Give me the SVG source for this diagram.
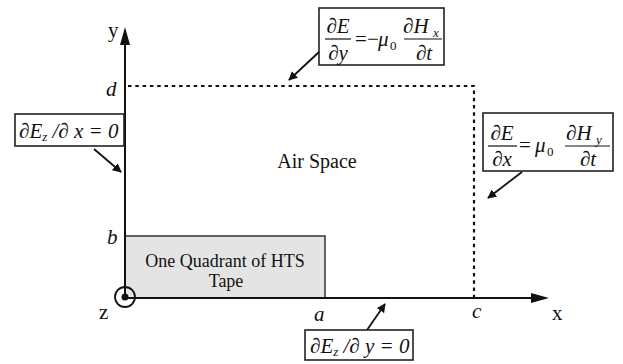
<svg xmlns="http://www.w3.org/2000/svg" width="623" height="364" viewBox="0 0 623 364">
  <style>
    .box { fill: #fff; stroke: #222; stroke-width: 1.6; }
    .axis { stroke: #111; stroke-width: 2; fill: none; }
    .bound { stroke: #111; stroke-width: 2.2; stroke-dasharray: 3.5 3.8; fill: none; }
    .lead { stroke: #111; stroke-width: 1.8; fill: none; marker-end: url(#tip); }
    .bar { stroke: #111; stroke-width: 1.2; }
  </style>
  <defs>
    <marker id="tip" viewBox="0 0 10 10" refX="9" refY="5" markerWidth="5" markerHeight="5" orient="auto" markerUnits="strokeWidth">
      <path d="M0,0 L10,5 L0,10 z" fill="#111"/>
    </marker>
  </defs>

  <rect width="623" height="364" fill="#fff"/>

  <!-- tape cross-section -->
  <g id="tape">
    <rect x="125" y="236" width="200" height="62" fill="#e4e4e4" stroke="#333" stroke-width="1.5"/>
    <text font-family="Liberation Serif" font-size="18" fill="#111" x="225" y="267" text-anchor="middle">One Quadrant of HTS</text>
    <text font-family="Liberation Serif" font-size="18" fill="#111" x="226" y="287" text-anchor="middle">Tape</text>
  </g>

  <!-- outer air boundary -->
  <g id="boundary">
    <path class="bound" d="M128,86 H474 V297"/>
  </g>

  <!-- axes -->
  <g id="axes">
    <line class="axis" x1="125" y1="299" x2="125" y2="40"/>
    <path d="M125,27 L130,45 L120,45 z" fill="#111"/>
    <line class="axis" x1="125" y1="298" x2="535" y2="298"/>
    <path d="M549,298 L531,293 L531,303 z" fill="#111"/>
    <circle cx="125" cy="297" r="10" fill="none" stroke="#111" stroke-width="1.8"/>
    <circle cx="125" cy="297" r="3.5" fill="#111"/>
    <text font-family="Liberation Serif" font-size="21" fill="#111" x="108" y="37">y</text>
    <text font-family="Liberation Serif" font-size="21" fill="#111" x="552" y="320">x</text>
    <text font-family="Liberation Serif" font-size="21" fill="#111" x="99" y="319">z</text>
    <text font-family="Liberation Serif" font-size="21" font-style="italic" fill="#111" x="106" y="96">d</text>
    <text font-family="Liberation Serif" font-size="21" font-style="italic" fill="#111" x="107" y="244">b</text>
    <text font-family="Liberation Serif" font-size="21" font-style="italic" fill="#111" x="314" y="321">a</text>
    <text font-family="Liberation Serif" font-size="21" font-style="italic" fill="#111" x="472" y="318">c</text>
  </g>

  <g id="air">
    <text font-family="Liberation Serif" font-size="20" fill="#111" x="317" y="168" text-anchor="middle">Air Space</text>
  </g>

  <!-- boundary condition on the top edge -->
  <g id="eq-top" font-family="Liberation Serif" font-size="21" font-style="italic" fill="#111">
    <rect class="box" x="319" y="8" width="125" height="57"/>
    <text font-family="Liberation Serif" font-style="italic" x="338" y="33" text-anchor="middle">∂E</text>
    <line class="bar" x1="325" y1="39" x2="351" y2="39"/>
    <text font-family="Liberation Serif" font-style="italic" x="338" y="60" text-anchor="middle">∂y</text>
    <text font-family="Liberation Serif" font-style="normal" x="355" y="46">=</text>
    <text font-family="Liberation Serif" font-style="normal" x="367" y="46">−</text>
    <text font-family="Liberation Serif" font-style="italic" x="378" y="46">μ</text>
    <text font-family="Liberation Serif" font-style="normal" font-size="13" x="390" y="50">0</text>
    <text font-family="Liberation Serif" font-style="italic" x="403" y="33">∂H</text>
    <text font-family="Liberation Serif" font-style="italic" font-size="13" x="433" y="37">x</text>
    <line class="bar" x1="404" y1="39" x2="442" y2="39"/>
    <text font-family="Liberation Serif" font-style="italic" x="424" y="60" text-anchor="middle">∂t</text>
  </g>

  <!-- boundary condition on the right edge -->
  <g id="eq-right" font-family="Liberation Serif" font-size="21" font-style="italic" fill="#111">
    <rect class="box" x="483" y="113" width="130" height="58"/>
    <text font-family="Liberation Serif" font-style="italic" x="502" y="140" text-anchor="middle">∂E</text>
    <line class="bar" x1="488" y1="146" x2="517" y2="146"/>
    <text font-family="Liberation Serif" font-style="italic" x="502" y="166" text-anchor="middle">∂x</text>
    <text font-family="Liberation Serif" font-style="normal" x="519" y="152">=</text>
    <text font-family="Liberation Serif" font-style="italic" x="535" y="152">μ</text>
    <text font-family="Liberation Serif" font-style="normal" font-size="13" x="547" y="156">0</text>
    <text font-family="Liberation Serif" font-style="italic" x="566" y="140">∂H</text>
    <text font-family="Liberation Serif" font-style="italic" font-size="13" x="596" y="144">y</text>
    <line class="bar" x1="565" y1="146" x2="610" y2="146"/>
    <text font-family="Liberation Serif" font-style="italic" x="588" y="166" text-anchor="middle">∂t</text>
  </g>

  <!-- boundary condition on the left edge -->
  <g id="eq-left" fill="#111">
    <rect class="box" x="15" y="114" width="109" height="32"/>
    <text font-family="Liberation Serif" font-size="21" font-style="italic" x="19" y="138">∂E<tspan font-size="13" dy="3">z</tspan><tspan dy="-3"> /∂ x = 0</tspan></text>
  </g>

  <!-- boundary condition on the bottom edge -->
  <g id="eq-bottom" fill="#111">
    <rect class="box" x="305" y="330" width="108" height="30"/>
    <text font-family="Liberation Serif" font-size="21" font-style="italic" x="310" y="353">∂E<tspan font-size="13" dy="3">z</tspan><tspan dy="-3"> /∂ y = 0</tspan></text>
  </g>

  <!-- leader arrows from equations to their edges -->
  <g id="connectors">
    <line class="lead" x1="319" y1="52" x2="289" y2="80"/>
    <line class="lead" x1="522" y1="172" x2="488" y2="198"/>
    <line class="lead" x1="94" y1="149" x2="121" y2="172"/>
    <line class="lead" x1="367" y1="330" x2="385" y2="304"/>
  </g>
</svg>
